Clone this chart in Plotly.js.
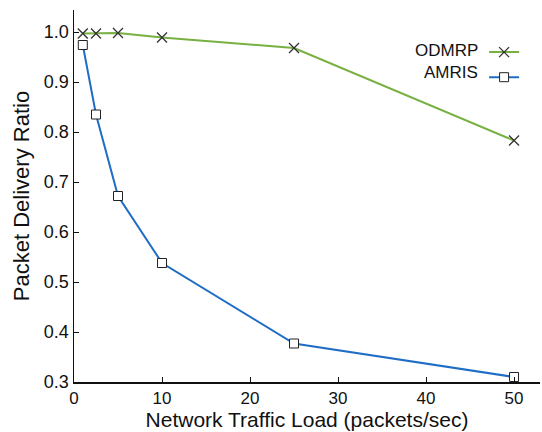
<!DOCTYPE html>
<html>
<head>
<meta charset="utf-8">
<script src="https://cdn.plot.ly/plotly-3.0.1.min.js"></script>
<style>
html,body{margin:0;padding:0;background:#fff;}
#chart{width:542px;height:432px;}
</style>
</head>
<body>
<div id="chart"></div>
<script>
const trafficLoad = [1, 2.5, 5, 10, 25, 50];
const odmrpPDR = [0.997, 0.997, 0.998, 0.989, 0.968, 0.783];
const amrisPDR = [0.974, 0.835, 0.672, 0.538, 0.377, 0.310];
const seriesNames = ["ODMRP", "AMRIS"];
const xTicks = [0, 10, 20, 30, 40, 50];
const yTicks = [0.3, 0.4, 0.5, 0.6, 0.7, 0.8, 0.9, 1.0];

const fontFam = "Liberation Sans, Arial, sans-serif";

const traces = [
  {
    x: trafficLoad, y: odmrpPDR, type: "scatter", mode: "lines+markers",
    name: " ", hovertext: seriesNames[0],
    line: {color: "#78b042", width: 2},
    marker: {symbol: "x-thin", size: 10, color: "#333", line: {color: "#333", width: 1.3}}
  },
  {
    x: trafficLoad, y: amrisPDR, type: "scatter", mode: "lines+markers",
    name: " ", hovertext: seriesNames[1],
    line: {color: "#1f6dc4", width: 2},
    marker: {symbol: "square", size: 9, color: "#fff", line: {color: "#222", width: 1}}
  }
];

const layout = {
  width: 542, height: 432,
  margin: {l: 74, r: 2, t: 10, b: 50},
  paper_bgcolor: "#fff", plot_bgcolor: "#fff",
  font: {family: fontFam, color: "#111"},
  showlegend: true,
  legend: {
    x: 0.88, y: 0.934, xanchor: "left", yanchor: "top",
    bgcolor: "rgba(0,0,0,0)", font: {size: 17}, tracegroupgap: 0,
    itemwidth: 30
  },
  xaxis: {
    range: [0, 52.95], tickvals: xTicks, ticktext: xTicks.map(String),
    showgrid: false, zeroline: false, showline: true, linecolor: "#111", linewidth: 1.5,
    ticks: "inside", ticklen: 5, tickcolor: "#111", tickfont: {size: 17},
    title: {text: "Network Traffic Load (packets/sec)", font: {size: 21}, standoff: 4}
  },
  yaxis: {
    range: [0.3, 1.044], tickvals: yTicks, ticktext: yTicks.map(v => v.toFixed(1)),
    showgrid: false, zeroline: false, showline: true, linecolor: "#111", linewidth: 1.5,
    ticks: "inside", ticklen: 5, tickcolor: "#111", tickfont: {size: 18},
    title: {text: "Packet Delivery Ratio", font: {size: 22}, standoff: 8}
  },
  annotations: [
    {xref: "paper", yref: "paper", x: 0.871, y: 0.892, xanchor: "right", yanchor: "middle",
     text: seriesNames[0], showarrow: false, font: {size: 17, color: "#111"}},
    {xref: "paper", yref: "paper", x: 0.871, y: 0.833, xanchor: "right", yanchor: "middle",
     text: seriesNames[1], showarrow: false, font: {size: 17, color: "#111"}}
  ]
};

Plotly.newPlot("chart", traces, layout, {displayModeBar: false, staticPlot: true});
</script>
</body>
</html>
